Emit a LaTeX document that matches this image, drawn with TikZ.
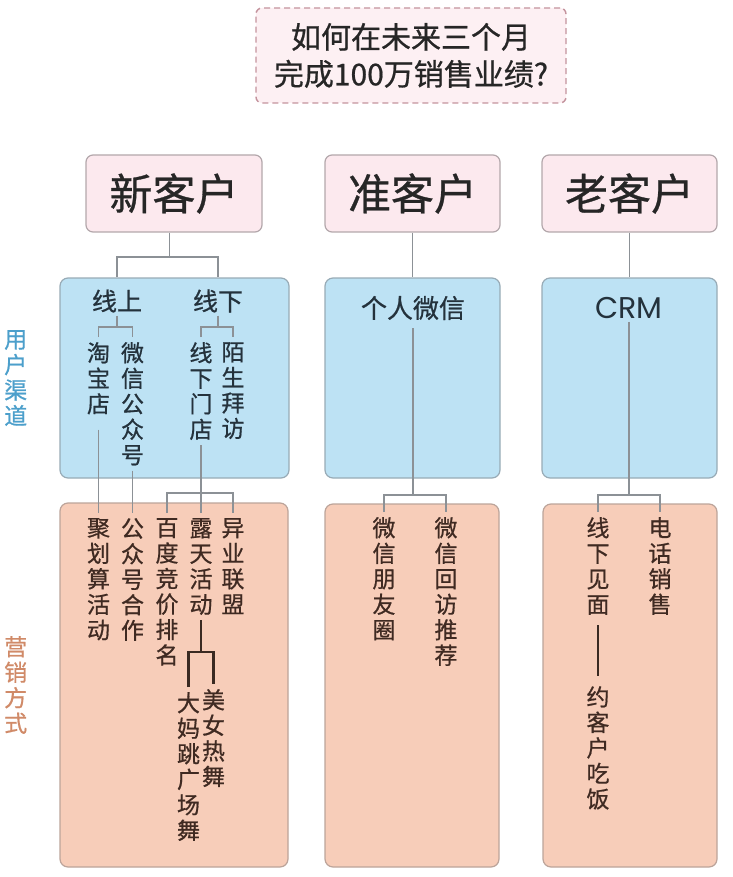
\documentclass[tikz,border=0pt]{standalone}
\usepackage{fontspec}
\setmainfont{Noto Sans CJK SC}[FakeBold=0.7]
\newfontfamily\crmfont{Poppins}
\usetikzlibrary{positioning}

\definecolor{titlefill}{HTML}{FDF0F3}
\definecolor{titledraw}{HTML}{C4939D}
\definecolor{headfill}{HTML}{FCE9EE}
\definecolor{headdraw}{HTML}{B3A7AB}
\definecolor{bluefill}{HTML}{BDE2F4}
\definecolor{bluedraw}{HTML}{98ABB6}
\definecolor{orangefill}{HTML}{F7CDB9}
\definecolor{orangedraw}{HTML}{BCA49A}
\definecolor{linegray}{HTML}{8C9196}
\definecolor{linedark}{HTML}{3A2A22}
\definecolor{bluetext}{HTML}{24323C}
\definecolor{browntext}{HTML}{3F2A22}
\definecolor{sideblue}{HTML}{4C9FCB}
\definecolor{sideorange}{HTML}{D08A68}

\tikzset{
  titlebox/.style={draw=titledraw, fill=titlefill, line width=1.4pt, dash pattern=on 6pt off 4pt,
    rounded corners=6pt, minimum width=310pt, minimum height=95pt, align=center,
    font=\fontsize{30}{37}\selectfont, text=black!85},
  headbox/.style={draw=headdraw, fill=headfill, line width=1.2pt, rounded corners=7pt,
    minimum height=77pt, font=\fontsize{43}{50}\selectfont, text=black!85},
  qudaobox/.style={draw=bluedraw, fill=bluefill, line width=1.2pt, rounded corners=8pt, minimum height=200pt},
  yingxiaobox/.style={draw=orangedraw, fill=orangefill, line width=1.2pt, rounded corners=8pt, minimum height=363pt},
  qtext/.style={inner sep=3pt, text=bluetext, font=\fontsize{25}{28}\selectfont},
  vtext/.style={anchor=north, align=center, inner sep=5pt, font=\fontsize{23}{25.5}\selectfont},
  sidetext/.style={align=center, inner sep=5pt, font=\fontsize{23}{25.5}\selectfont},
  conn/.style={draw=linegray, line width=1.8pt},
  darkconn/.style={draw=linedark, line width=2.6pt}
}

\begin{document}
\begin{tikzpicture}[x=1pt, y=-1pt]
\useasboundingbox (0,0) rectangle (732,877);

\node[titlebox] (frage) at (411,55.5) {如何在未来三个月\\完成100万销售业绩?};

\node[headbox, minimum width=176pt] (xin) at (174,193.5) {新客户};
\node[headbox, minimum width=175pt] (zhun) at (412.5,193.5) {准客户};
\node[headbox, minimum width=175pt] (lao) at (629.5,193.5) {老客户};

% boxes
\node[qudaobox, minimum width=229pt] (xinqudao) at (174.5,378) {};
\node[qudaobox, minimum width=175pt] (zhunqudao) at (412.5,378) {};
\node[qudaobox, minimum width=175pt] (laoqudao) at (629.5,378) {};

\node[yingxiaobox, minimum width=228pt, minimum height=364pt] (xinyingxiao) at (174,685) {};
\node[yingxiaobox, minimum width=174pt] (zhunyingxiao) at (412,685.5) {};
\node[yingxiaobox, minimum width=174pt] (laoyingxiao) at (630,685.5) {};

\node[sidetext, text=sideblue, left=27pt of xinqudao] (yonghu) {用\\户\\渠\\道};
\node[sidetext, text=sideorange, left=27pt of xinyingxiao] (yingxiao) {营\\销\\方\\式};

% channels
\node[qtext] (xianshang) at (117,301) {线上};
\node[qtext] (xianxia) at (218,301) {线下};
\node[qtext, font=\fontsize{26}{30}\selectfont] (geren) at (413,308) {个人微信};
\node[qtext, font=\crmfont\fontsize{30}{34}\selectfont] (crm) at (629,308) {CRM};

\node[vtext, text=bluetext] (taobao) at (98.5,337) {淘\\宝\\店};
\node[vtext, text=bluetext] (wxgzh) at (132.5,337) {微\\信\\公\\众\\号};
\node[vtext, text=bluetext] (mendian) at (201,337) {线\\下\\门\\店};
\node[vtext, text=bluetext] (baifang) at (233,337) {陌\\生\\拜\\访};

% marketing
\node[vtext, text=browntext] (juhuasuan) at (98.5,513) {聚\\划\\算\\活\\动};
\node[vtext, text=browntext] (gzhhezuo) at (132.5,513) {公\\众\\号\\合\\作};
\node[vtext, text=browntext] (baidu) at (167,513) {百\\度\\竞\\价\\排\\名};
\node[vtext, text=browntext] (lutian) at (201,513) {露\\天\\活\\动};
\node[vtext, text=browntext] (yiye) at (233,513) {异\\业\\联\\盟};
\node[vtext, text=browntext] (dama) at (188.5,687) {大\\妈\\跳\\广\\场\\舞};
\node[vtext, text=browntext] (meinv) at (213.5,684) {美\\女\\热\\舞};

\node[vtext, text=browntext] (pengyouquan) at (384,512) {微\\信\\朋\\友\\圈};
\node[vtext, text=browntext] (huifang) at (446,512) {微\\信\\回\\访\\推\\荐};

\node[vtext, text=browntext] (jianmian) at (598,512) {线\\下\\见\\面};
\node[vtext, text=browntext] (dianhua) at (660,512) {电\\话\\销\\售};
\node[vtext, text=browntext, below=61pt of jianmian] (chifan) {约\\客\\户\\吃\\饭};

% connectors
\coordinate (xinfork) at (169.5,257);
\draw[conn] (xinfork |- xin.south) -- (xinfork);
\draw[conn] (xianshang |- xinqudao.north) |- (xinfork) -| (xianxia |- xinqudao.north);
\draw[conn] (zhun.south) -- (zhunqudao.north);
\draw[conn] (lao.south) -- (laoqudao.north);

\path (xianshang.south) ++(0,11) coordinate (shangfork);
\draw[conn] (xianshang.south) -- (shangfork);
\draw[conn] (taobao.north) |- (shangfork) -| (wxgzh.north);
\path (xianxia.south) ++(0,11) coordinate (xiafork);
\draw[conn] (xianxia.south) -- (xiafork);
\draw[conn] (mendian.north) |- (xiafork) -| (baifang.north);

\draw[conn, shorten <=10pt] (taobao.south) -- (juhuasuan.north);
\draw[conn] (wxgzh.south) -- (gzhhezuo.north);
\coordinate (dianfork) at (201,493);
\draw[conn] (mendian.south) -- (lutian.north);
\draw[conn] (baidu.north) |- (dianfork) -| (yiye.north);

\coordinate (wufork) at (201,652);
\draw[darkconn] (lutian.south) -- (wufork);
\draw[darkconn] (dama.north) |- (wufork) -| (meinv.north);

\coordinate (zhunfork) at (413,495);
\draw[conn, shorten <=5pt] (geren.south) -- (zhunfork);
\draw[conn] (pengyouquan.north) |- (zhunfork) -| (huifang.north);

\coordinate (laofork) at (629,495);
\draw[conn] (crm.south) -- (laofork);
\draw[conn] (jianmian.north) |- (laofork) -| (dianhua.north);
\draw[darkconn, shorten <=5pt, shorten >=5pt] (jianmian.south) -- (chifan.north);

\end{tikzpicture}
\end{document}
